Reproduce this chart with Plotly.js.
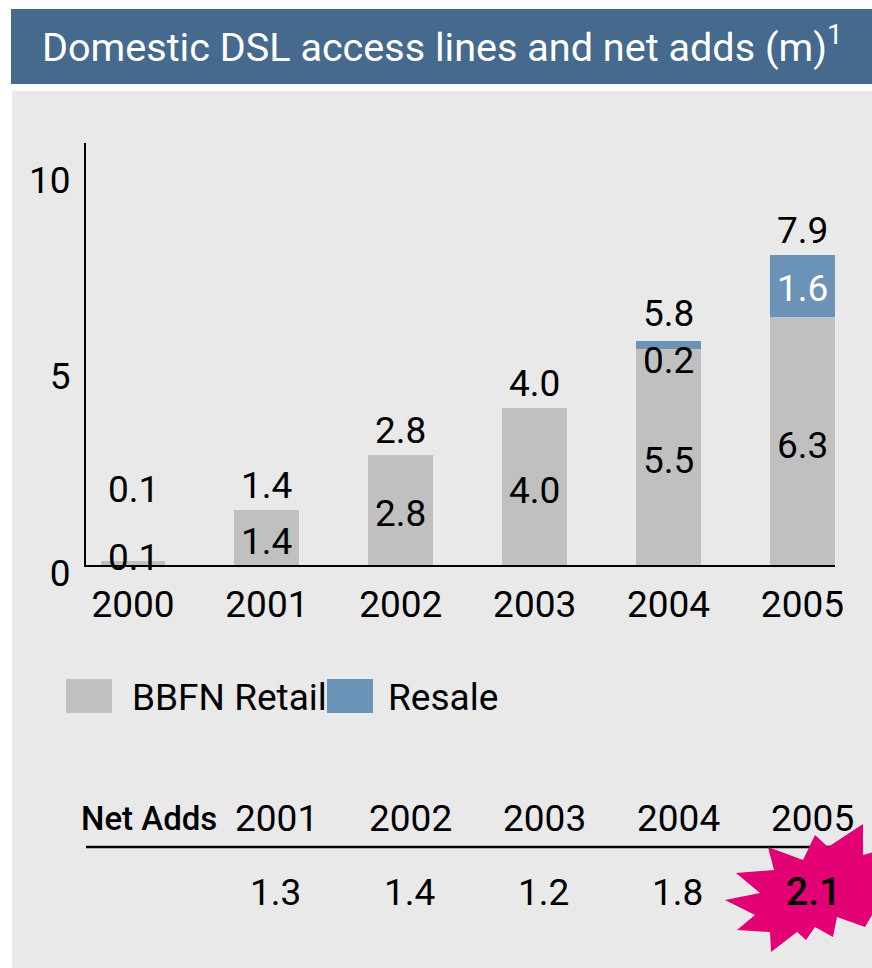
<!DOCTYPE html>
<html>
<head>
<meta charset="utf-8">
<script src="https://cdn.plot.ly/plotly-3.0.1.min.js"></script>
<style>
  html, body { margin: 0; padding: 0; background: #ffffff; }
  #chart { width: 872px; height: 968px; }
</style>
</head>
<body>
<div id="chart"></div>
<script>
// ---------- data ----------
const years = ['2000', '2001', '2002', '2003', '2004', '2005'];
const retail = [0.1, 1.4, 2.8, 4.0, 5.5, 6.3];
const resale = [0, 0, 0, 0, 0.2, 1.6];
const totals = [0.1, 1.4, 2.8, 4.0, 5.8, 7.9];
const retailLabels = ['0.1', '1.4', '2.8', '4.0', '5.5', '6.3'];
const resaleLabels = ['', '', '', '', '0.2', '1.6'];
const totalLabels = ['0.1', '1.4', '2.8', '4.0', '5.8', '7.9'];
const seriesNames = ['BBFN Retail', 'Resale'];
const yTickVals = [0, 5, 10];
const yTickText = ['0', '5', '10'];
const netAddYears = ['2001', '2002', '2003', '2004', '2005'];
const netAdds = ['1.3', '1.4', '1.2', '1.8', '2.1'];
const titleMain = 'Domestic DSL access lines and net adds (m)';
const titleSup = '1';
const netAddsHeader = 'Net Adds';

// ---------- styling ----------
const W = 872, H = 968;
const M = { l: 86, r: 37, t: 143, b: 403 };
const PW = W - M.l - M.r, PH = H - M.t - M.b;
const YMAX = 10.74;
const FONT = 'Roboto, "Liberation Sans", sans-serif';
const C_RETAIL = '#c0c0c0';
const C_RESALE = '#6b93b8';
const C_TITLE = '#456a8d';
const C_PANEL = '#e9e9e9';
const C_STAR = '#e20074';
const FS = 37;

// fit the title font size to the reference title width
function fitSize(text, family, targetW, ref) {
  const c = document.createElement('canvas').getContext('2d');
  c.font = ref + 'px ' + family;
  const w = c.measureText(text).width;
  return w > 0 ? ref * targetW / w : ref;
}
const TITLE_FS = Math.min(44, fitSize(titleMain, 'Roboto', 785, 40));

const px = x => (x - M.l) / PW;          // pixel x -> paper x
const py = y => (H - M.b - y) / PH;      // pixel y -> paper y
const unitPx = PH / YMAX;

const traces = [
  { type: 'bar', name: seriesNames[0], x: years, y: retail, marker: { color: C_RETAIL },
    width: 0.485, hoverinfo: 'x+y+name', showlegend: false },
  { type: 'bar', name: seriesNames[1], x: years, y: resale, marker: { color: C_RESALE },
    width: 0.485, hoverinfo: 'x+y+name', showlegend: false }
];

const annotations = [];
const labelFont = (c, w, s) => ({ family: FONT, size: s || FS, color: c || '#000', weight: w || 'normal' });

years.forEach((yr, i) => {
  // retail value inside bar
  annotations.push({ xref: 'x', yref: 'y', x: i, y: Math.max(retail[i] / 2, 0.3), yshift: -4,
    text: retailLabels[i], showarrow: false, font: labelFont('#000'), yanchor: 'middle' });
  // resale value
  if (resaleLabels[i]) {
    const tall = resale[i] * unitPx >= 34;
    annotations.push({ xref: 'x', yref: 'y', x: i,
      y: tall ? retail[i] + resale[i] / 2 : retail[i] + resale[i],
      yanchor: tall ? 'middle' : 'top', yshift: tall ? -2 : 4,
      text: resaleLabels[i], showarrow: false, font: labelFont(tall ? '#ffffff' : '#000') });
  }
  // total above bar
  annotations.push({ xref: 'x', yref: 'y', x: i, y: Math.max(totals[i], 1.3), yshift: 24,
    yanchor: 'middle', text: totalLabels[i], showarrow: false, font: labelFont('#000') });
});

// custom legend (large swatches)
const legendItems = [
  { name: seriesNames[0], color: C_RETAIL, sx: 66, tx: 130 },
  { name: seriesNames[1], color: C_RESALE, sx: 327, tx: 386 }
];
const shapes = [];
shapes.push({ type: 'rect', xref: 'paper', yref: 'paper', x0: px(12), x1: px(880), y0: py(975), y1: py(91),
  fillcolor: C_PANEL, line: { width: 0 }, layer: 'below' });
shapes.push({ type: 'rect', xref: 'paper', yref: 'paper', x0: px(11), x1: px(880), y0: py(84), y1: py(9),
  fillcolor: C_TITLE, line: { width: 0 }, layer: 'below' });

legendItems.forEach(it => {
  shapes.push({ type: 'rect', xref: 'paper', yref: 'paper', x0: px(it.sx), x1: px(it.sx + 46),
    y0: py(713), y1: py(679), fillcolor: it.color, line: { width: 0 } });
  annotations.push({ xref: 'paper', yref: 'paper', x: px(it.tx), y: py(697), xanchor: 'left', yanchor: 'middle',
    text: it.name, showarrow: false, font: labelFont('#000') });
});

// net adds table rule
shapes.push({ type: 'line', xref: 'paper', yref: 'paper', x0: px(86), x1: px(843), y0: py(847), y1: py(847),
  line: { color: '#000', width: 2.5 } });

// starburst behind 2005 net adds (decoration)
const starPts = [
  [725, 900], [760, 893], [736, 873], [774, 870], [768, 847], [803, 860], [815, 835], [828, 847],
  [863, 824], [863, 855], [900, 845], [880, 885], [905, 915], [872, 915], [865, 927], [837, 917],
  [833, 937], [815, 927], [806, 940], [797, 932], [771, 952], [770, 932], [737, 930], [755, 915]
];
const starPath = starPts.map((p, i) => (i ? 'L' : 'M') + px(p[0]).toFixed(4) + ',' + py(p[1]).toFixed(4)).join(' ') + ' Z';
shapes.push({ type: 'path', xref: 'paper', yref: 'paper', path: starPath,
  fillcolor: C_STAR, line: { width: 0 } });

annotations.push({ xref: 'paper', yref: 'paper', x: px(79), y: py(818), xanchor: 'left', yanchor: 'middle',
  text: netAddsHeader, showarrow: false, font: labelFont('#000', 500, 33) });
netAddYears.forEach((yr, i) => {
  const idx = years.indexOf(yr);
  annotations.push({ xref: 'x', yref: 'paper', x: idx, xshift: 10, y: py(818), yanchor: 'middle',
    text: yr, showarrow: false, font: labelFont('#000') });
  const last = i === netAddYears.length - 1;
  annotations.push({ xref: 'x', yref: 'paper', x: idx, xshift: last ? 11 : 9, y: py(892), yanchor: 'middle',
    text: netAdds[i], showarrow: false, font: labelFont('#000', last ? 500 : 'normal', last ? 39 : FS) });
});

const layout = {
  width: W, height: H,
  margin: M,
  paper_bgcolor: '#ffffff',
  plot_bgcolor: 'rgba(0,0,0,0)',
  barmode: 'stack',
  showlegend: false,
  title: { text: titleMain + '<sup>' + titleSup + '</sup>', xref: 'container', yref: 'container',
    x: 42 / W, xanchor: 'left', y: 1 - 47 / H, yanchor: 'middle',
    font: { family: FONT, size: TITLE_FS, color: '#ffffff' } },
  xaxis: { type: 'category', range: [-0.351, 5.243], showline: true, linecolor: '#000', linewidth: 2,
    ticks: '', showgrid: false, zeroline: false, ticklabelstandoff: 6,
    tickfont: { family: FONT, size: FS, color: '#000' }, fixedrange: true },
  yaxis: { range: [0, YMAX], showline: true, linecolor: '#000', linewidth: 2, ticks: '',
    tickvals: yTickVals, ticktext: yTickText, showgrid: false, zeroline: false,
    ticklabelstandoff: 6, ticklabelshift: 8,
    tickfont: { family: FONT, size: FS, color: '#000' }, fixedrange: true },
  shapes: shapes,
  annotations: annotations,
  font: { family: FONT, color: '#000' }
};

Plotly.newPlot('chart', traces, layout, { displayModeBar: false, staticPlot: true });
</script>
</body>
</html>
